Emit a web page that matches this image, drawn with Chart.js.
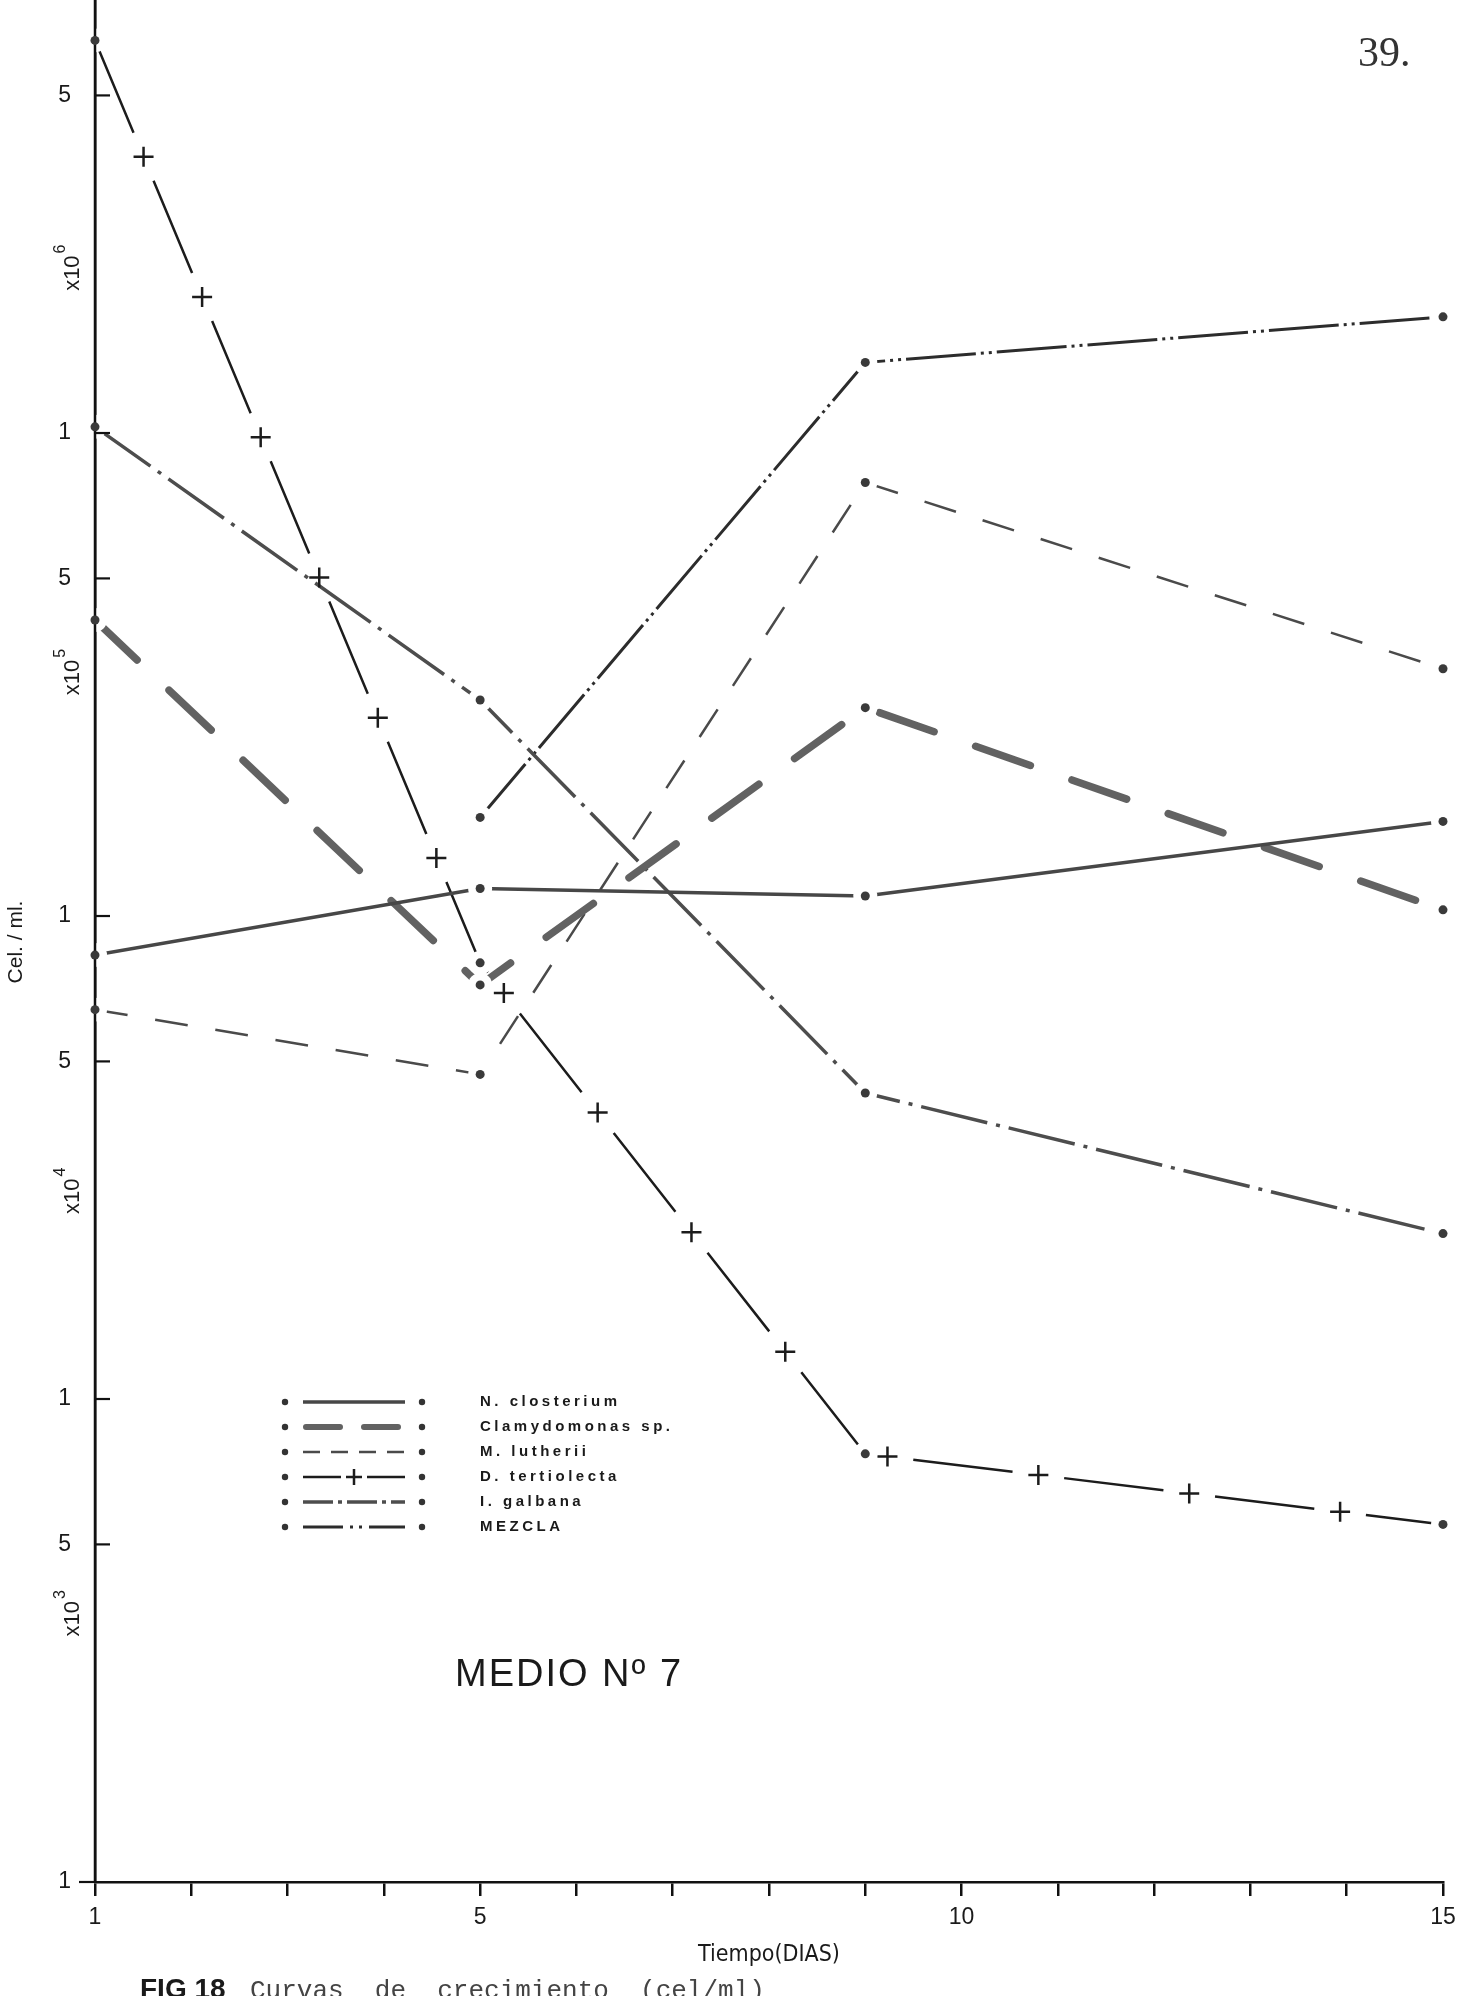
<!DOCTYPE html>
<html>
<head>
<meta charset="utf-8">
<script src="https://cdn.jsdelivr.net/npm/chart.js@4.4.0/dist/chart.umd.min.js"></script>
<style>
  html, body { margin: 0; padding: 0; background: #ffffff; }
  canvas { display: block; }
</style>
</head>
<body>
<canvas id="growth" width="1469" height="1996"></canvas>
<script>
// Sampling days (Tiempo, días)
const days = [1, 5, 9, 15];

// Cell densities (cel./ml) per culture
const nClosterium  = [8.3e4, 1.14e5, 1.10e5, 1.57e5];
const clamydomonas = [4.1e5, 7.2e4, 2.7e5, 1.03e5];
const mLutherii    = [6.4e4, 4.7e4, 7.9e5, 3.25e5];
const dTertiolecta = [6.5e6, 8.0e4, 7.7e3, 5.5e3];
const iGalbana     = [1.03e6, 2.8e5, 4.3e4, 2.2e4];
const mezcla       = [null, 1.6e5, 1.4e6, 1.74e6];

const seriesNames = ['N. closterium', 'Clamydomonas sp.', 'M. lutherii', 'D. tertiolecta', 'I. galbana', 'MEZCLA'];
const seriesValues = [nClosterium, clamydomonas, mLutherii, dTertiolecta, iGalbana, mezcla];

// Axis ticks
const yTickValues = [1e3, 5e3, 1e4, 5e4, 1e5, 5e5, 1e6, 5e6];
const yTickLabels = ['1', '5', '1', '5', '1', '5', '1', '5'];
const yExponents  = [3, 4, 5, 6];
const xTickDays   = [1, 2, 3, 4, 5, 6, 7, 8, 9, 10, 11, 12, 13, 14, 15];
const xLabelDays  = [1, 5, 10, 15];

// Pen style of each plotted curve
const lineStyles = [
  { color: '#474747', width: 3.5, dash: [],                  cap: 'butt',  legendDash: [] },
  { color: '#626262', width: 7.5, dash: [58, 44],            cap: 'round', legendDash: [34, 24] },
  { color: '#4a4a4a', width: 2.5, dash: [33, 28],            cap: 'butt',  legendDash: [17, 11] },
  { color: '#1c1c1c', width: 2.5, dash: [100, 52],           cap: 'butt',  legendDash: [38, 26], crosses: true },
  { color: '#4d4d4d', width: 3.5, dash: [68, 9, 4, 9],       cap: 'butt',  legendDash: [30, 5, 4, 5] },
  { color: '#2c2c2c', width: 3,   dash: [70, 5, 3, 5, 3, 5], cap: 'butt',  legendDash: [40, 7, 3, 6, 3, 7] }
];

const SANS = "'Liberation Sans', Arial, sans-serif";
const NARROW = "'Liberation Sans Narrow', 'DejaVu Sans Condensed', 'Liberation Sans', sans-serif";
const INK = '#1a1a1a';

const datasets = seriesValues.map((vals, i) => ({
  label: seriesNames[i],
  data: days.map((d, k) => ({ x: d, y: vals[k] })),
  borderColor: lineStyles[i].color,
  borderWidth: lineStyles[i].width,
  borderDash: lineStyles[i].dash,
  borderCapStyle: lineStyles[i].cap,
  borderJoinStyle: 'round',
  pointRadius: 0,
  pointHoverRadius: 0,
  fill: false,
  tension: 0,
  spanGaps: false
}));

function drawCross(ctx, x, y, r) {
  ctx.beginPath();
  ctx.moveTo(x - r, y); ctx.lineTo(x + r, y);
  ctx.moveTo(x, y - r); ctx.lineTo(x, y + r);
  ctx.stroke();
}

const decorations = {
  id: 'decorations',
  afterDatasetsDraw(chart) {
    const ctx = chart.ctx;
    const area = chart.chartArea;
    const yScale = chart.scales.y;

    ctx.save();
    // "+" marks placed in the gaps of the dashed D. tertiolecta curve
    chart.data.datasets.forEach((ds, i) => {
      const st = lineStyles[i];
      if (!st.crosses) return;
      const pts = chart.getDatasetMeta(i).data.filter(p => !p.skip);
      const period = st.dash[0] + st.dash[1];
      let next = st.dash[0] + st.dash[1] / 2;
      let acc = 0;
      ctx.strokeStyle = st.color;
      ctx.lineWidth = 2.5;
      ctx.setLineDash([]);
      for (let k = 0; k < pts.length - 1; k++) {
        const a = pts[k], b = pts[k + 1];
        const len = Math.hypot(b.x - a.x, b.y - a.y);
        while (next <= acc + len) {
          const t = (next - acc) / len;
          drawCross(ctx, a.x + (b.x - a.x) * t, a.y + (b.y - a.y) * t, 10);
          next += period;
        }
        acc += len;
      }
    });

    // small clearings around each measured point
    ctx.fillStyle = '#ffffff';
    chart.data.datasets.forEach((ds, i) => {
      chart.getDatasetMeta(i).data.forEach(p => {
        if (p.skip) return;
        ctx.beginPath();
        ctx.arc(p.x, p.y, 12, 0, Math.PI * 2);
        ctx.fill();
      });
    });

    // vertical axis line on top of the clearings
    ctx.strokeStyle = '#111';
    ctx.lineWidth = 2.5;
    ctx.setLineDash([]);
    ctx.beginPath();
    ctx.moveTo(area.left, area.top);
    ctx.lineTo(area.left, area.bottom);
    ctx.stroke();

    // inner tick marks of the logarithmic axis
    ctx.lineWidth = 2.2;
    yTickValues.forEach(v => {
      const py = yScale.getPixelForValue(v);
      ctx.beginPath();
      if (v === yTickValues[0]) { ctx.moveTo(area.left - 16, py); ctx.lineTo(area.left, py); }
      else { ctx.moveTo(area.left, py); ctx.lineTo(area.left + 15, py); }
      ctx.stroke();
    });

    // measured points
    ctx.fillStyle = '#3a3a3a';
    chart.data.datasets.forEach((ds, i) => {
      chart.getDatasetMeta(i).data.forEach(p => {
        if (p.skip) return;
        ctx.beginPath();
        ctx.arc(p.x, p.y, 4.5, 0, Math.PI * 2);
        ctx.fill();
      });
    });
    ctx.restore();
  },

  afterDraw(chart) {
    const ctx = chart.ctx;
    const area = chart.chartArea;
    const yScale = chart.scales.y;
    ctx.save();
    ctx.fillStyle = INK;

    // exponent labels beside each decade
    const exponentAt = [3.6e3, 2.7e4, 3.2e5, 2.2e6];
    yExponents.forEach((e, i) => {
      const py = yScale.getPixelForValue(exponentAt[i]);
      ctx.save();
      ctx.translate(area.left - 22, py);
      ctx.rotate(-Math.PI / 2);
      ctx.font = '22px ' + SANS;
      ctx.textBaseline = 'middle';
      ctx.textAlign = 'left';
      const w = ctx.measureText('x10').width;
      const x0 = -(w + 11) / 2;
      ctx.fillText('x10', x0, 0);
      ctx.font = '16px ' + SANS;
      ctx.fillText(String(e), x0 + w + 2, -12);
      ctx.restore();
    });

    // vertical axis caption
    ctx.save();
    ctx.translate(16, 942);
    ctx.rotate(-Math.PI / 2);
    ctx.font = '21px ' + SANS;
    ctx.textAlign = 'center';
    ctx.textBaseline = 'middle';
    ctx.fillText('Cel. / ml.', 0, 0);
    ctx.restore();

    // legend block
    const lx0 = 285, lx1 = 303, lx2 = 405, lx3 = 422, tx = 480;
    seriesNames.forEach((name, i) => {
      const st = lineStyles[i];
      const ly = 1402 + i * 25;
      ctx.fillStyle = '#333';
      [lx0, lx3].forEach(px => { ctx.beginPath(); ctx.arc(px, ly, 3.2, 0, Math.PI * 2); ctx.fill(); });
      ctx.strokeStyle = st.color;
      ctx.lineWidth = Math.min(st.width, 6);
      ctx.lineCap = st.cap;
      ctx.setLineDash(st.legendDash);
      ctx.beginPath();
      ctx.moveTo(lx1 + (st.cap === 'round' ? 3 : 0), ly);
      ctx.lineTo(lx2 - (st.cap === 'round' ? 3 : 0), ly);
      ctx.stroke();
      ctx.setLineDash([]);
      if (st.crosses) {
        ctx.lineWidth = 2.5;
        ctx.lineCap = 'butt';
        drawCross(ctx, lx1 + st.legendDash[0] + st.legendDash[1] / 2, ly, 8);
      }
      ctx.fillStyle = INK;
      ctx.font = 'bold 15px ' + SANS;
      ctx.letterSpacing = '3.5px';
      ctx.textAlign = 'left';
      ctx.textBaseline = 'middle';
      ctx.fillText(name, tx, ly);
      ctx.letterSpacing = '0px';
    });

    // medium label
    ctx.font = '38px ' + SANS;
    ctx.letterSpacing = '2px';
    ctx.textAlign = 'left';
    ctx.textBaseline = 'middle';
    ctx.fillText('MEDIO Nº 7', 455, 1676);
    ctx.letterSpacing = '0px';

    // page number
    ctx.font = "42px 'Liberation Serif', serif";
    ctx.textBaseline = 'alphabetic';
    ctx.fillStyle = '#333';
    ctx.fillText('39.', 1358, 66);

    // figure caption, running off the bottom edge of the page
    ctx.fillStyle = INK;
    ctx.font = 'bold 28px ' + SANS;
    ctx.fillText('FIG 18', 140, 1998);
    ctx.font = "26px 'Liberation Mono', monospace";
    ctx.fillStyle = '#444';
    ctx.fillText('Curvas  de  crecimiento  (cel/ml)', 250, 1998);
    ctx.restore();
  }
};

new Chart(document.getElementById('growth'), {
  type: 'line',
  data: { datasets },
  plugins: [decorations],
  options: {
    responsive: false,
    animation: false,
    devicePixelRatio: 1,
    layout: { padding: { top: 0, left: 0, right: 26, bottom: 23 } },
    plugins: { legend: { display: false }, tooltip: { enabled: false } },
    scales: {
      x: {
        type: 'linear',
        min: 1,
        max: 15,
        afterBuildTicks: s => { s.ticks = xTickDays.map(v => ({ value: v })); },
        afterFit: s => { s.height = 91; s.paddingLeft = 0; s.paddingRight = 0; },
        ticks: {
          autoSkip: false,
          maxRotation: 0,
          padding: 8,
          color: INK,
          font: { family: SANS, size: 23 },
          callback: v => (xLabelDays.includes(v) ? String(v) : '')
        },
        grid: { drawOnChartArea: false, drawTicks: true, tickLength: 14, color: '#111', lineWidth: 2.5 },
        border: { display: true, color: '#111', width: 2.5 },
        title: { display: true, text: 'Tiempo(DIAS)', color: INK, font: { family: NARROW, size: 23 } }
      },
      y: {
        type: 'logarithmic',
        min: 1000,
        max: 7.88e6,
        afterBuildTicks: s => { s.ticks = yTickValues.map(v => ({ value: v })); },
        afterFit: s => { s.width = 95; s.paddingTop = 0; s.paddingBottom = 0; },
        ticks: {
          autoSkip: false,
          padding: 24,
          color: INK,
          font: { family: SANS, size: 23 },
          callback: (v, i) => yTickLabels[i]
        },
        grid: { drawOnChartArea: false, drawTicks: false },
        border: { display: true, color: '#111', width: 2.5 }
      }
    }
  }
});
</script>
</body>
</html>
